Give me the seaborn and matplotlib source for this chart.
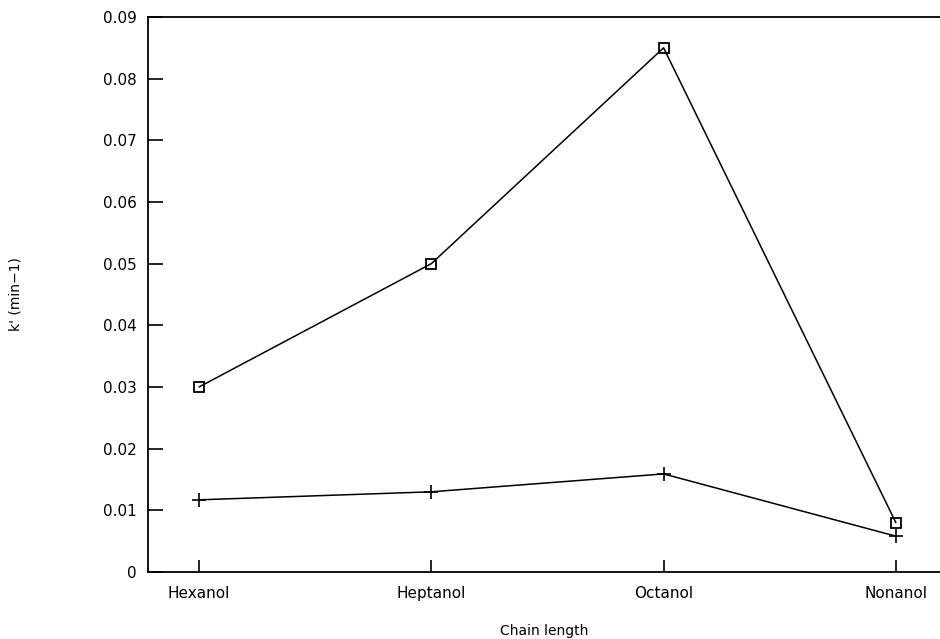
import matplotlib
matplotlib.use("Agg")
import matplotlib.pyplot as plt
import seaborn as sns
import pandas as pd

alcohols = ["Hexanol", "Heptanol", "Octanol", "Nonanol"]
k_square = [0.030, 0.050, 0.085, 0.008]
k_plus = [0.0117, 0.0130, 0.0159, 0.0058]
y_ticks = [0, 0.01, 0.02, 0.03, 0.04, 0.05, 0.06, 0.07, 0.08, 0.09]
y_tick_labels = ["0", "0.01", "0.02", "0.03", "0.04", "0.05", "0.06", "0.07", "0.08", "0.09"]

sns.set_theme(style="ticks")
plt.rcParams["font.family"] = ["DejaVu Sans"]

df_sq = pd.DataFrame({"pos": range(len(alcohols)), "k": k_square})
df_pl = pd.DataFrame({"pos": range(len(alcohols)), "k": k_plus})

fig = plt.figure(figsize=(9.4, 6.39), dpi=100)
ax = fig.add_axes([0.1574, 0.1049, 0.8426, 0.8685])

sns.lineplot(data=df_sq, x="pos", y="k", ax=ax, color="black", linewidth=1.1,
             marker="s", markersize=7.5, markerfacecolor="none",
             markeredgecolor="black", markeredgewidth=1.3)
sns.lineplot(data=df_pl, x="pos", y="k", ax=ax, color="black", linewidth=1.1,
             marker="+", markersize=10, markeredgecolor="black",
             markeredgewidth=1.2)

ax.set_xlim(-0.22, 3.19)
ax.set_ylim(0, 0.09)
ax.set_xticks(range(len(alcohols)))
ax.set_xticklabels(alcohols, fontsize=11)
ax.set_yticks(y_ticks)
ax.set_yticklabels(y_tick_labels, fontsize=11)
ax.tick_params(axis="y", direction="in", length=11, width=1.2, colors="black", pad=8)
ax.tick_params(axis="x", direction="in", length=9, width=1.2, colors="black", pad=10)

for side in ["left", "bottom", "top"]:
    ax.spines[side].set_linewidth(1.3)
    ax.spines[side].set_color("black")
ax.spines["right"].set_visible(False)

ax.set_xlabel("Chain length", fontsize=10, labelpad=17, color="black")
ax.set_ylabel("k' (min\u22121)", fontsize=10, labelpad=58, color="black")

fig.savefig("out.png", dpi=100)
